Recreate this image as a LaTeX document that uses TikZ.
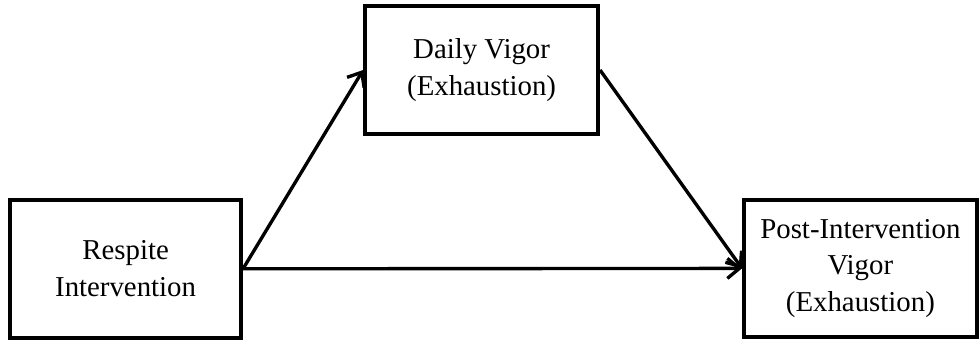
\documentclass[tikz,border=0pt]{standalone}
\usepackage{fontspec}
\setmainfont{Liberation Serif}
\usetikzlibrary{arrows.meta}
\begin{document}
\begin{tikzpicture}[
		box/.style= {shape= rectangle, draw, line width= 2.6pt, align= center,
			font= \fontsize{20.5}{26}\selectfont},
		link/.style= {line width= 2.4pt, -{Straight Barb[length= 3mm, width= 5mm]}}]
		\useasboundingbox (0,0) rectangle (24.5,8.65);
		\node[box, minimum width= 5.78cm, minimum height= 3.45cm] (Resp) at (3.14,1.93) {Respite\\Intervention};
		\node[box, minimum width= 5.83cm, minimum height= 3.2cm] (Daily) at (12.04,6.9) {Daily Vigor\\(Exhaustion)};
		\node[box, minimum width= 5.83cm, minimum height= 3.43cm] (Post) at (21.51,1.94) {Post-Intervention\\Vigor\\(Exhaustion)};
		% Connections
		\draw [link] (Resp.east) to (Daily.west);
		\draw [link] (Daily.east) to (Post.west);
		\draw [link] (Resp.east) to (Post.west);
	\end{tikzpicture}
\end{document}
